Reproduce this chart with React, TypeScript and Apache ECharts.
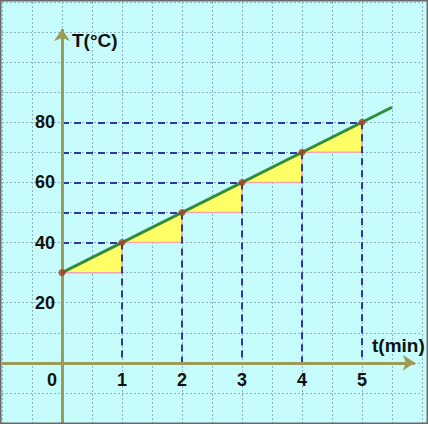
import React, { useEffect, useRef } from "react";
import * as echarts from "echarts";

// Data
const times = [0, 1, 2, 3, 4, 5];
const temps = [30, 40, 50, 60, 70, 80];
const lineEnd = [5.5, 85];
const xTickLabels = [0, 1, 2, 3, 4, 5];
const yTickLabels = [20, 40, 60, 80];
const xAxisExtent = [-1, 5.88];
const yAxisExtent = [-20, 111];

const points = times.map((t, i) => [t, temps[i]]);
const triangles = points.slice(0, -1).map((p, i) => [p[0], p[1], points[i + 1][0], points[i + 1][1]]);

export default function App() {
  const ref = useRef<HTMLDivElement>(null);
  useEffect(() => {
    document.body.style.margin = "0";
    const chart = echarts.init(ref.current!, null, { renderer: "svg" });
    const dashStyle = { color: "#3535a5", width: 2, type: [7, 5] as any };
    const dashLines: any[] = [];
    points.forEach(([t, T]) => {
      if (t === 0) return;
      dashLines.push([{ coord: [0, T] }, { coord: [t, T] }]);
      dashLines.push([{ coord: [t, T] }, { coord: [t, 0] }]);
    });
    const axisColor = "#9c9c58";
    const font = "Liberation Sans, Arial, sans-serif";
    // grid: x in [-1, 6] over 420px (60 px/unit), y in [-20, 120] over 421px
    const gridLeft = 2, gridWidth = 420, gridTop = 2, gridHeight = 421;
    const xMin = -1, xMax = 6, yMin = -20, yMax = 120;
    const zeroFromLeft = ((0 - xMin) / (xMax - xMin)) * gridWidth;
    const zeroFromBottom = ((0 - yMin) / (yMax - yMin)) * gridHeight;
    chart.setOption({
      animation: false,
      backgroundColor: "#c6fcfc",
      grid: {
        left: gridLeft,
        top: gridTop,
        width: gridWidth,
        height: gridHeight,
        containLabel: false,
        outerBoundsMode: "none",
      },
      xAxis: {
        type: "value",
        min: xMin,
        max: xMax,
        interval: 0.5,
        position: "bottom",
        offset: -zeroFromBottom,
        axisLine: { show: false, onZero: false },
        axisTick: { show: false },
        splitLine: { show: true, lineStyle: { color: "#8cb2bf", width: 1, type: [2, 2] } },
        axisLabel: {
          margin: 8,
          fontSize: 18,
          fontWeight: "bold",
          fontFamily: font,
          color: "#111",
          showMinLabel: true,
          showMaxLabel: true,
          formatter: (v: number) =>
            xTickLabels.includes(v) ? (v === 0 ? "{z|0}" : String(v)) : "",
          rich: {
            z: {
              fontSize: 18,
              fontWeight: "bold",
              fontFamily: font,
              color: "#111",
              padding: [0, 20, 0, 0],
            },
          },
        },
      },
      yAxis: {
        type: "value",
        min: yMin,
        max: yMax,
        interval: 10,
        position: "left",
        offset: -zeroFromLeft,
        axisLine: { show: false, onZero: false },
        axisTick: { show: false },
        splitLine: { show: true, lineStyle: { color: "#8cb2bf", width: 1, type: [2, 2] } },
        axisLabel: {
          margin: 7,
          fontSize: 18,
          fontWeight: "bold",
          fontFamily: font,
          color: "#111",
          formatter: (v: number) => (yTickLabels.includes(v) ? String(v) : ""),
        },
      },
      graphic: [
        {
          type: "text",
          left: 72,
          top: 31,
          style: { text: "T(°C)", fontSize: 19, fontWeight: "bold", fontFamily: font, fill: "#111" },
          z: 10,
        },
        {
          type: "text",
          left: 372,
          top: 336,
          style: { text: "t(min)", fontSize: 19, fontWeight: "bold", fontFamily: font, fill: "#111" },
          z: 10,
        },
        {
          type: "rect",
          shape: { x: 0.75, y: 0.75, width: 426.5, height: 422.5 },
          style: { fill: "none", stroke: "#6a6a6a", lineWidth: 1.5 },
          z: 20,
          silent: true,
        },
      ],
      series: [
        {
          type: "line",
          data: [],
          z: 2,
          silent: true,
          markLine: {
            silent: true,
            symbol: ["none", "none"],
            label: { show: false },
            lineStyle: dashStyle,
            emphasis: { disabled: true },
            data: dashLines,
          },
        },
        {
          type: "custom",
          z: 3,
          silent: true,
          data: triangles,
          renderItem: (params: any, api: any) => {
            const a = api.coord([api.value(0), api.value(1)]);
            const b = api.coord([api.value(2), api.value(1)]);
            const c = api.coord([api.value(2), api.value(3)]);
            return {
              type: "polygon",
              shape: { points: [a, b, c] },
              style: { fill: "#ffff66", stroke: "#f2a6b4", lineWidth: 1.5 },
            };
          },
        },
        {
          type: "line",
          data: [],
          z: 4,
          silent: true,
          markLine: {
            silent: true,
            symbol: ["none", "arrow"],
            symbolSize: 12,
            label: { show: false },
            lineStyle: { color: axisColor, width: 3, type: "solid" },
            emphasis: { disabled: true },
            data: [
              [{ coord: [xAxisExtent[0], 0] }, { coord: [xAxisExtent[1], 0] }],
              [{ coord: [0, yAxisExtent[0]] }, { coord: [0, yAxisExtent[1]] }],
            ],
          },
        },
        {
          type: "line",
          z: 5,
          silent: true,
          symbol: "none",
          lineStyle: { color: "#2f8c3c", width: 3 },
          data: [points[0], lineEnd],
        },
        {
          type: "scatter",
          z: 6,
          silent: true,
          symbolSize: 7,
          itemStyle: { color: "#a8401e" },
          data: points,
        },
      ],
    });
    return () => chart.dispose();
  }, []);
  return <div ref={ref} style={{ width: 428, height: 424 }} />;
}
